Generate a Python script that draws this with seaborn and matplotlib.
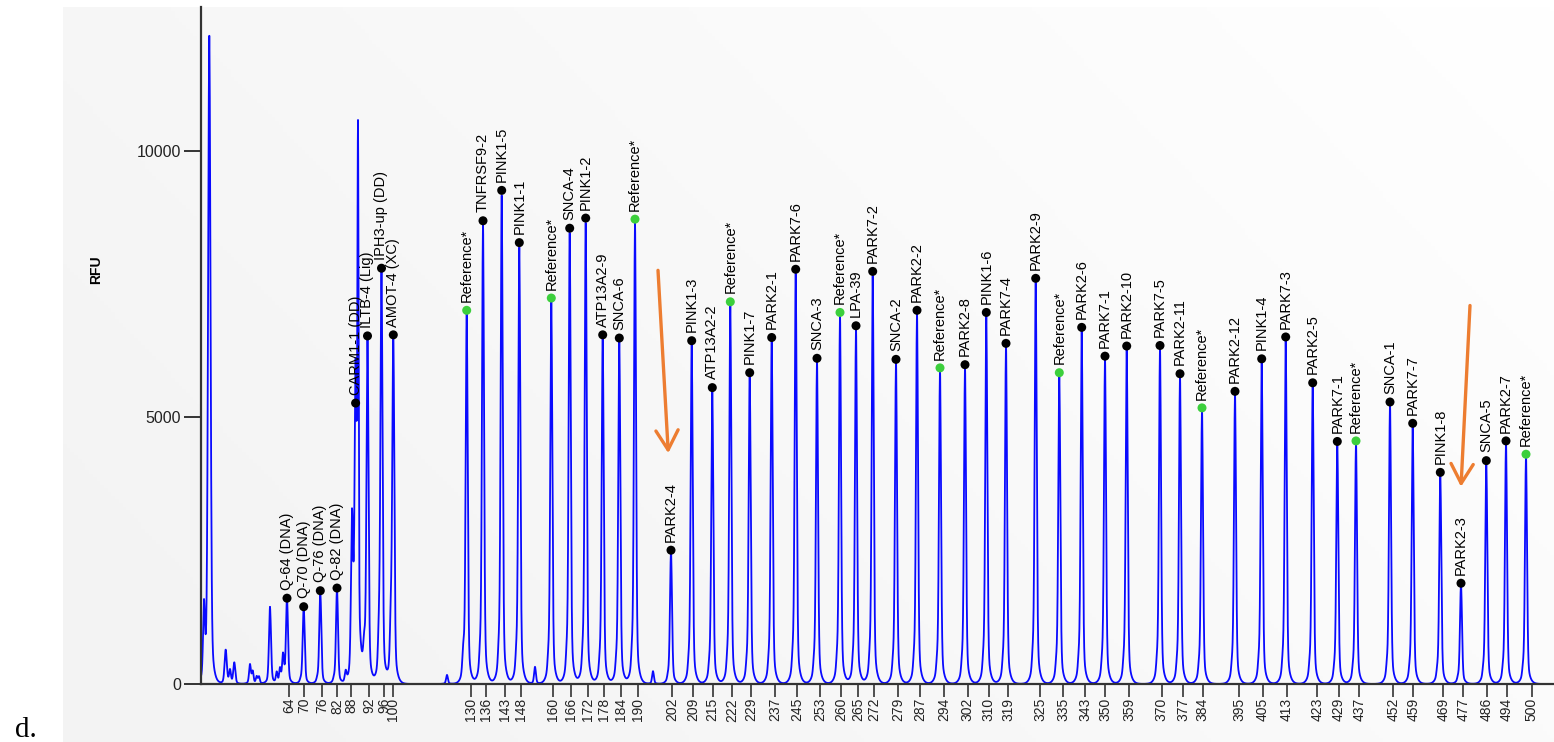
import numpy as np
import pandas as pd
import matplotlib
matplotlib.use("Agg")
import matplotlib.pyplot as plt
import seaborn as sns
from matplotlib.patches import FancyArrowPatch

# ---- probe peaks: name, migration position, peak height (RFU) ----
probe_names = [
    "Q-64 (DNA)", "Q-70 (DNA)", "Q-76 (DNA)", "Q-82 (DNA)",
    "CARM1-1 (DD)", "ILTB-4 (Lig)", "IPH3-up (DD)", "AMOT-4 (XC)",
    "Reference*", "TNFRSF9-2", "PINK1-5", "PINK1-1", "Reference*",
    "SNCA-4", "PINK1-2", "ATP13A2-9", "SNCA-6", "Reference*",
    "PARK2-4", "PINK1-3", "ATP13A2-2", "Reference*", "PINK1-7",
    "PARK2-1", "PARK7-6", "SNCA-3", "Reference*", "LPA-39",
    "PARK7-2", "SNCA-2", "PARK2-2", "Reference*", "PARK2-8",
    "PINK1-6", "PARK7-4", "PARK2-9", "Reference*", "PARK2-6",
    "PARK7-1", "PARK2-10", "PARK7-5", "PARK2-11", "Reference*",
    "PARK2-12", "PINK1-4", "PARK7-3", "PARK2-5", "PARK7-1",
    "Reference*", "SNCA-1", "PARK7-7", "PINK1-8", "PARK2-3",
    "SNCA-5", "PARK2-7", "Reference*",
]
probe_pos = [
    86, 102.7, 119.3, 136,
    154.6, 166.5, 180.5, 192.3,
    265.7, 282, 300.7, 318.3, 350.3,
    368.7, 384.7, 401.7, 418.3, 434,
    470, 490.7, 511.3, 529.3, 548.7,
    570.7, 594.7, 616, 639, 655,
    671.7, 695, 716, 739, 764,
    785.3, 805, 834.7, 858.3, 880.7,
    904, 925.7, 959, 979, 1001,
    1034, 1060.7, 1084.7, 1111.7, 1136.3,
    1155, 1189, 1211.7, 1239.3, 1260,
    1285.3, 1305, 1325,
]
probe_rfu = [
    1610, 1450, 1750, 1800,
    5270, 6530, 7800, 6550,
    7010, 8690, 9260, 8280, 7240,
    8550, 8740, 6550, 6490, 8720,
    2510, 6440, 5560, 7170, 5840,
    6500, 7780, 6110, 6970, 6720,
    7740, 6090, 7010, 5930, 5990,
    6970, 6390, 7610, 5840, 6690,
    6150, 6340, 6350, 5820, 5180,
    5490, 6100, 6510, 5650, 4550,
    4560, 5290, 4890, 3970, 1890,
    4190, 4560, 4310,
]

# ---- unlabelled peaks (primer front, stutter, artefacts) ----
minor_pos = [3, 8.3, 24.7, 29, 33.3, 49, 51.7, 55.7, 58, 69, 75.7, 79, 82,
             144.7, 151, 157, 163, 178.3, 190, 246, 262, 334, 452]
minor_rfu = [1350, 12270, 640, 250, 400, 360, 225, 130, 130, 1445, 200, 260, 490,
             200, 2780, 9900, 300, 540, 790, 170, 250, 320, 240]
minor_width = [0.9, 1.2, 1.1, 0.9, 1.0, 0.9, 0.8, 0.8, 0.8, 1.0, 0.8, 0.8, 0.9,
               0.9, 1.0, 0.6, 1.0, 0.9, 0.9, 0.9, 0.9, 0.9, 0.9]

# ---- fragment size axis ----
size_labels = [64, 70, 76, 82, 88, 92, 96, 100,
               130, 136, 143, 148, 160, 166, 172, 178, 184, 190, 202, 209, 215,
               222, 229, 237, 245, 253, 260, 265, 272, 279, 287, 294, 302, 310,
               319, 325, 335, 343, 350, 359, 370, 377, 384, 395, 405, 413, 423,
               429, 437, 452, 459, 469, 477, 486, 494, 500]
size_pos = [88, 103, 121, 136, 150, 168, 183, 192,
            269.7, 285, 304, 319.7, 351.7, 369.7, 387, 403, 419.7, 437, 471, 492, 511.5,
            531.3, 550, 574.3, 596.3, 619, 640.3, 657.3, 673, 697.3, 719, 743.3, 766.7, 787.5,
            807.3, 839, 862.3, 884, 904.3, 928, 960.7, 982.3, 1001.7, 1038.3, 1062, 1085.7, 1116.3,
            1138, 1158.3, 1192.3, 1212.3, 1242.3, 1262.3, 1285.7, 1305.7, 1330.7]

# ---- highlighted deletions (arrows) ----
arrow_tail_pos = [457, 1269]
arrow_tail_rfu = [7760, 7100]
arrow_tip_pos = [467.3, 1260]
arrow_tip_rfu = [4330, 3700]

X_MAX = 1353
Y_MAX = 12700


def peak_shape(d, w):
    return 0.8 * np.exp(-0.5 * (d / w) ** 2) + 0.2 * np.exp(-np.abs(d) / 2.3)


# Build the electropherogram trace from the peak tables
pos = np.arange(0, X_MAX + 0.1, 0.2)
rfu = np.zeros_like(pos)
for p, h in zip(probe_pos, probe_rfu):
    rfu += h * peak_shape(pos - p, 1.0)
    rfu += 0.035 * h * peak_shape(pos - (p - 3.0), 0.8)
for p, h, w in zip(minor_pos, minor_rfu, minor_width):
    rfu += h * peak_shape(pos - p, w)
trace = pd.DataFrame({"pos": pos, "rfu": rfu})

peaks = pd.DataFrame({
    "name": probe_names,
    "pos": probe_pos,
    "rfu": probe_rfu,
})
peaks["kind"] = np.where(peaks["name"].str.startswith("Reference"), "reference", "probe")

sns.set_theme(style="white")
plt.rcParams["font.family"] = ["Liberation Sans", "DejaVu Sans"]

W, H = 1554, 742
fig = plt.figure(figsize=(W / 100, H / 100), dpi=100)
fig.patch.set_facecolor("white")

# light panel behind the plot, fading to white towards the upper right
bg = fig.add_axes([63 / W, 0, 1 - 63 / W, (H - 7) / H], zorder=0)
gu = np.linspace(0, 1, 400)[None, :]
gv = np.linspace(0, 1, 200)[:, None]
t = np.clip(0.75 * gu + 0.35 * gv - 0.1, 0, 1)
shade = 0.955 + 0.045 * t
bg.imshow(np.dstack([shade, shade, shade]), aspect="auto", origin="lower",
          extent=[0, 1, 0, 1])
bg.set_axis_off()

ax = fig.add_axes([201 / W, (H - 684) / H, (W - 201) / W, 677 / H], zorder=1)
ax.set_facecolor("none")

sns.lineplot(data=trace, x="pos", y="rfu", ax=ax, color="#0a0aff", lw=1.3,
             estimator=None, sort=False, zorder=2)
ax.lines[-1].set_clip_on(False)

sns.scatterplot(data=peaks, x="pos", y="rfu", hue="kind",
                palette={"probe": "black", "reference": "#3ccf3c"},
                s=42, edgecolor="none", legend=False, ax=ax, zorder=4)

for name, p, h in zip(probe_names, probe_pos, probe_rfu):
    ax.annotate(name, (p, h), xytext=(0, 6), textcoords="offset points",
                rotation=90, ha="center", va="bottom", fontsize=10.5,
                color="black", zorder=5)

for tp, tr, hp, hr in zip(arrow_tail_pos, arrow_tail_rfu, arrow_tip_pos, arrow_tip_rfu):
    ax.add_patch(FancyArrowPatch((tp, tr), (hp, hr),
                                 arrowstyle="->,head_length=0.7,head_width=0.4",
                                 mutation_scale=20, color="#ed7d31", lw=2.4,
                                 shrinkA=0, shrinkB=0, zorder=6))

ax.set_xlim(0, X_MAX)
ax.set_ylim(0, Y_MAX)
ax.set_yticks([0, 5000, 10000])
ax.set_yticklabels(["0", "5000", "10000"])
ax.set_xticks(size_pos)
ax.set_xticklabels([str(s) for s in size_labels], rotation=90)

ax.tick_params(axis="y", length=12.5, width=1.4, color="#333333", pad=2,
               labelsize=11.5, labelcolor="#222222", left=True)
ax.tick_params(axis="x", length=9, width=1.2, color="#333333", pad=1,
               labelsize=10, labelcolor="#222222", bottom=True)

for side in ("top", "right"):
    ax.spines[side].set_visible(False)
for side in ("left", "bottom"):
    ax.spines[side].set_color("#333333")
    ax.spines[side].set_linewidth(1.6)

ax.set_xlabel("")
ax.set_ylabel("RFU", fontsize=10, fontweight="bold", color="black")
ax.yaxis.set_label_coords((103 - 201) / (W - 201), (684 - 270) / 677)

fig.text(15 / W, 5 / H, "d.", fontsize=21, family=["Liberation Serif", "DejaVu Serif"],
         ha="left", va="baseline", color="black")

fig.savefig("out.png", dpi=100)
